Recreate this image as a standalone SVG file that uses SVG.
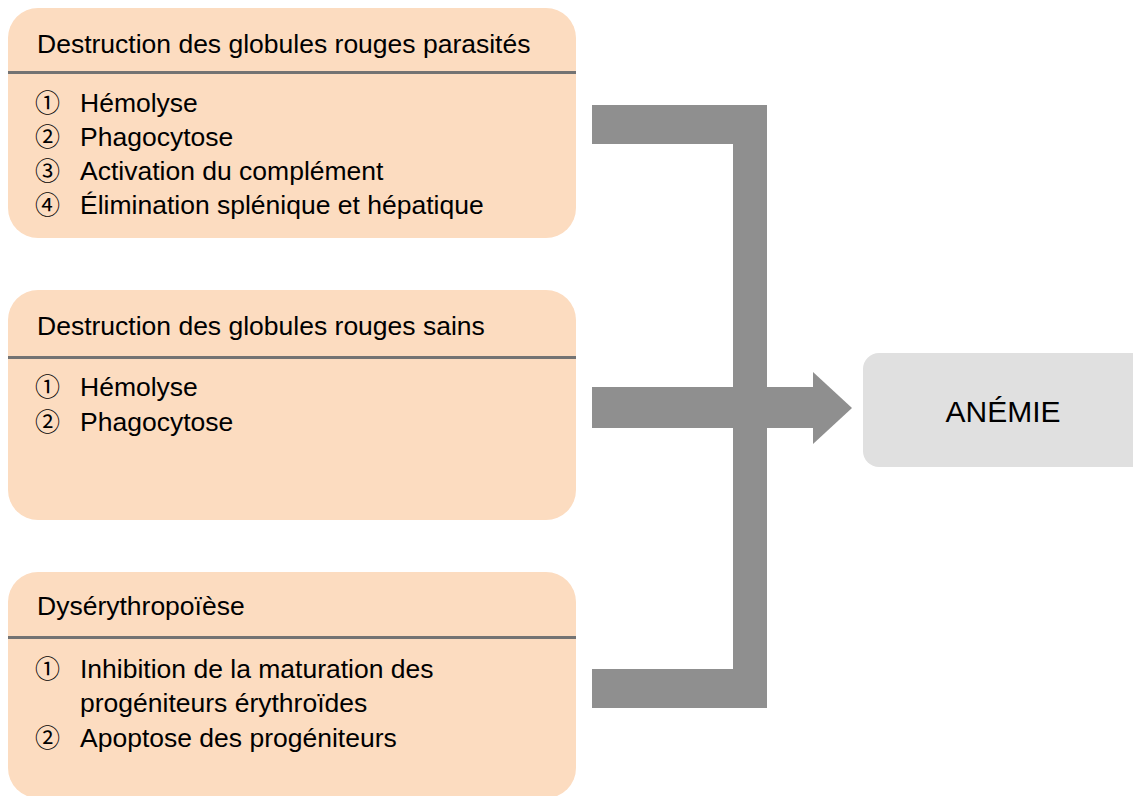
<svg xmlns="http://www.w3.org/2000/svg" width="1133" height="796" viewBox="0 0 1133 796">
<style>
.box{fill:#FCDCC0;}
.div{stroke:#737373;stroke-width:3;}
.t{font-family:"Liberation Sans",Arial,"Noto Sans CJK JP",sans-serif;font-size:26.5px;fill:#000;}
.n{font-family:"Noto Sans CJK JP","DejaVu Sans",sans-serif;font-size:25px;fill:#000;}
.res{fill:#E0E0E0;}
.big{font-family:"Liberation Sans",Arial,sans-serif;font-size:30px;fill:#000;}
.arr{fill:#8F8F8F;}
</style>
<rect width="1133" height="796" fill="#fff"/>
<g id="node-parasites">
<rect class="box" x="8" y="8" width="568" height="230" rx="30"/>
<line class="div" x1="8" y1="72.5" x2="576" y2="72.5"/>
<text class="t" x="37" y="53">Destruction des globules rouges parasités</text>
<text class="n" x="35" y="112">①</text><text class="t" x="80" y="112">Hémolyse</text>
<text class="n" x="35" y="146">②</text><text class="t" x="80" y="146">Phagocytose</text>
<text class="n" x="35" y="180">③</text><text class="t" x="80" y="180">Activation du complément</text>
<text class="n" x="35" y="214">④</text><text class="t" x="80" y="214">Élimination splénique et hépatique</text>
</g>
<g id="node-sains">
<rect class="box" x="8" y="290" width="568" height="230" rx="30"/>
<line class="div" x1="8" y1="357.5" x2="576" y2="357.5"/>
<text class="t" x="37" y="335">Destruction des globules rouges sains</text>
<text class="n" x="35" y="396">①</text><text class="t" x="80" y="396">Hémolyse</text>
<text class="n" x="35" y="431">②</text><text class="t" x="80" y="431">Phagocytose</text>
</g>
<g id="node-dyserythropoiese">
<rect class="box" x="8" y="572" width="568" height="226" rx="30"/>
<line class="div" x1="8" y1="637.5" x2="576" y2="637.5"/>
<text class="t" x="37" y="615">Dysérythropoïèse</text>
<text class="n" x="35" y="678">①</text><text class="t" x="80" y="678">Inhibition de la maturation des</text>
<text class="t" x="80" y="712">progéniteurs érythroïdes</text>
<text class="n" x="35" y="747">②</text><text class="t" x="80" y="747">Apoptose des progéniteurs</text>
</g>
<g id="node-anemie">
<rect class="res" x="863" y="353" width="285" height="114" rx="16"/>
<text class="big" x="1003" y="422" text-anchor="middle">ANÉMIE</text>
</g>
<g id="connectors">
<rect class="arr" x="592" y="105" width="175" height="39"/>
<rect class="arr" x="733" y="105" width="34" height="603"/>
<rect class="arr" x="592" y="669" width="175" height="39"/>
<rect class="arr" x="592" y="387" width="222" height="41"/>
<polygon class="arr" points="813,372 852,408 813,444"/>
</g>
</svg>
